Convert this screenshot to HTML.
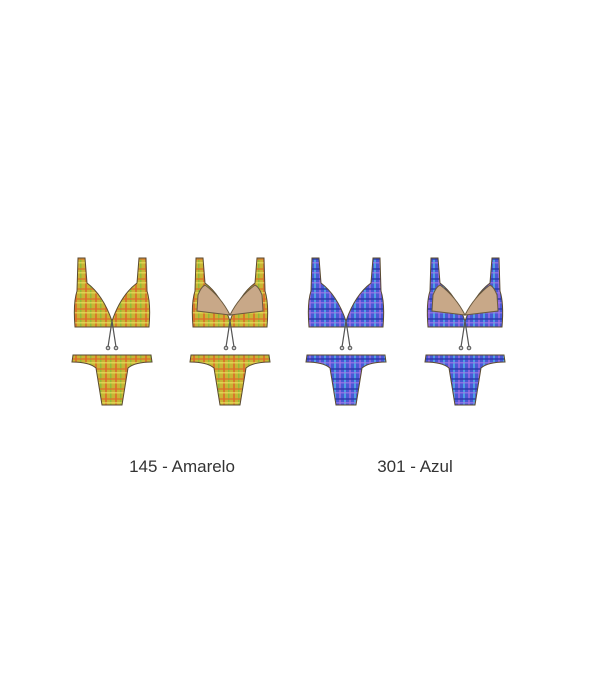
<!DOCTYPE html>
<html><head><meta charset="utf-8"><style>
html,body{margin:0;padding:0;background:#fff;width:600px;height:700px;overflow:hidden}
.lbl{position:absolute;top:457px;font:17px "Liberation Sans",sans-serif;color:#333;width:200px;text-align:center}
</style></head><body>
<svg width="600" height="700" style="position:absolute;left:0;top:0">
<defs>
<pattern id="py" width="10" height="10" patternUnits="userSpaceOnUse">
<rect width="10" height="10" fill="#c9b434"/>
<rect x="0" width="2" height="10" fill="#e0602a" opacity=".7"/>
<rect x="5" width="1.5" height="10" fill="#6cc23a" opacity=".6"/>
<rect y="3" width="10" height="2" fill="#e06a2a" opacity=".6"/>
<rect y="7" width="10" height="1.5" fill="#e8e060" opacity=".7"/>
</pattern>
<pattern id="pb" width="10" height="10" patternUnits="userSpaceOnUse">
<rect width="10" height="10" fill="#4a58d6"/>
<rect x="0" width="2" height="10" fill="#9a6ae0" opacity=".8"/>
<rect x="5" width="2" height="10" fill="#50c0e8" opacity=".7"/>
<rect y="3" width="10" height="2" fill="#2a38a8" opacity=".7"/>
<rect y="7" width="10" height="1.5" fill="#a07ae8" opacity=".7"/>
</pattern>
<g id="topf">
<path d="M3 3 L10 3 L12 28 Q28 40 37 66 Q46 40 62 28 L64 3 L71 3 L72 36 Q76 48 74 72 L37 72 L0 72 Q-2 48 2 36 Z" stroke="#5a4a30" stroke-width="1"/>
<path d="M37 66 L33 92 M37 66 L41 92" stroke="#555" stroke-width="1.2" fill="none"/>
<circle cx="33" cy="93" r="1.8" fill="#ccc" stroke="#555"/><circle cx="41" cy="93" r="1.8" fill="#ccc" stroke="#555"/>
</g>
<g id="topb">
<path d="M3 3 L10 3 L12 28 Q28 40 37 66 Q46 40 62 28 L64 3 L71 3 L72 36 Q76 48 74 72 L37 72 L0 72 Q-2 48 2 36 Z" stroke="#5a4a30" stroke-width="1"/>
<path d="M5 40 Q8 32 12 30 Q28 42 37 60 Q46 42 62 30 Q66 32 69 40 L70 56 L37 60 L4 56 Z" fill="#c8a888" stroke="#6a5a40" stroke-width="1"/>
<path d="M37 66 L33 92 M37 66 L41 92" stroke="#555" stroke-width="1.2" fill="none"/>
<circle cx="33" cy="93" r="1.8" fill="#ccc" stroke="#555"/><circle cx="41" cy="93" r="1.8" fill="#ccc" stroke="#555"/>
</g>
<g id="bot">
<path d="M-2 100 L76 100 L77 107 Q60 107 53 113 L47 150 L27 150 L21 113 Q14 107 -3 107 Z" stroke="#5a4a30" stroke-width="1"/>
</g>
</defs>
<g transform="translate(75,255)" fill="url(#py)"><use href="#topf"/><use href="#bot"/></g>
<g transform="translate(193,255)" fill="url(#py)"><use href="#topb"/><use href="#bot"/></g>
<g transform="translate(309,255)" fill="url(#pb)"><use href="#topf"/><use href="#bot"/></g>
<g transform="translate(428,255)" fill="url(#pb)"><use href="#topb"/><use href="#bot"/></g>
</svg>
<div class="lbl" style="left:82px">145 - Amarelo</div>
<div class="lbl" style="left:315px">301 - Azul</div>
</body></html>
